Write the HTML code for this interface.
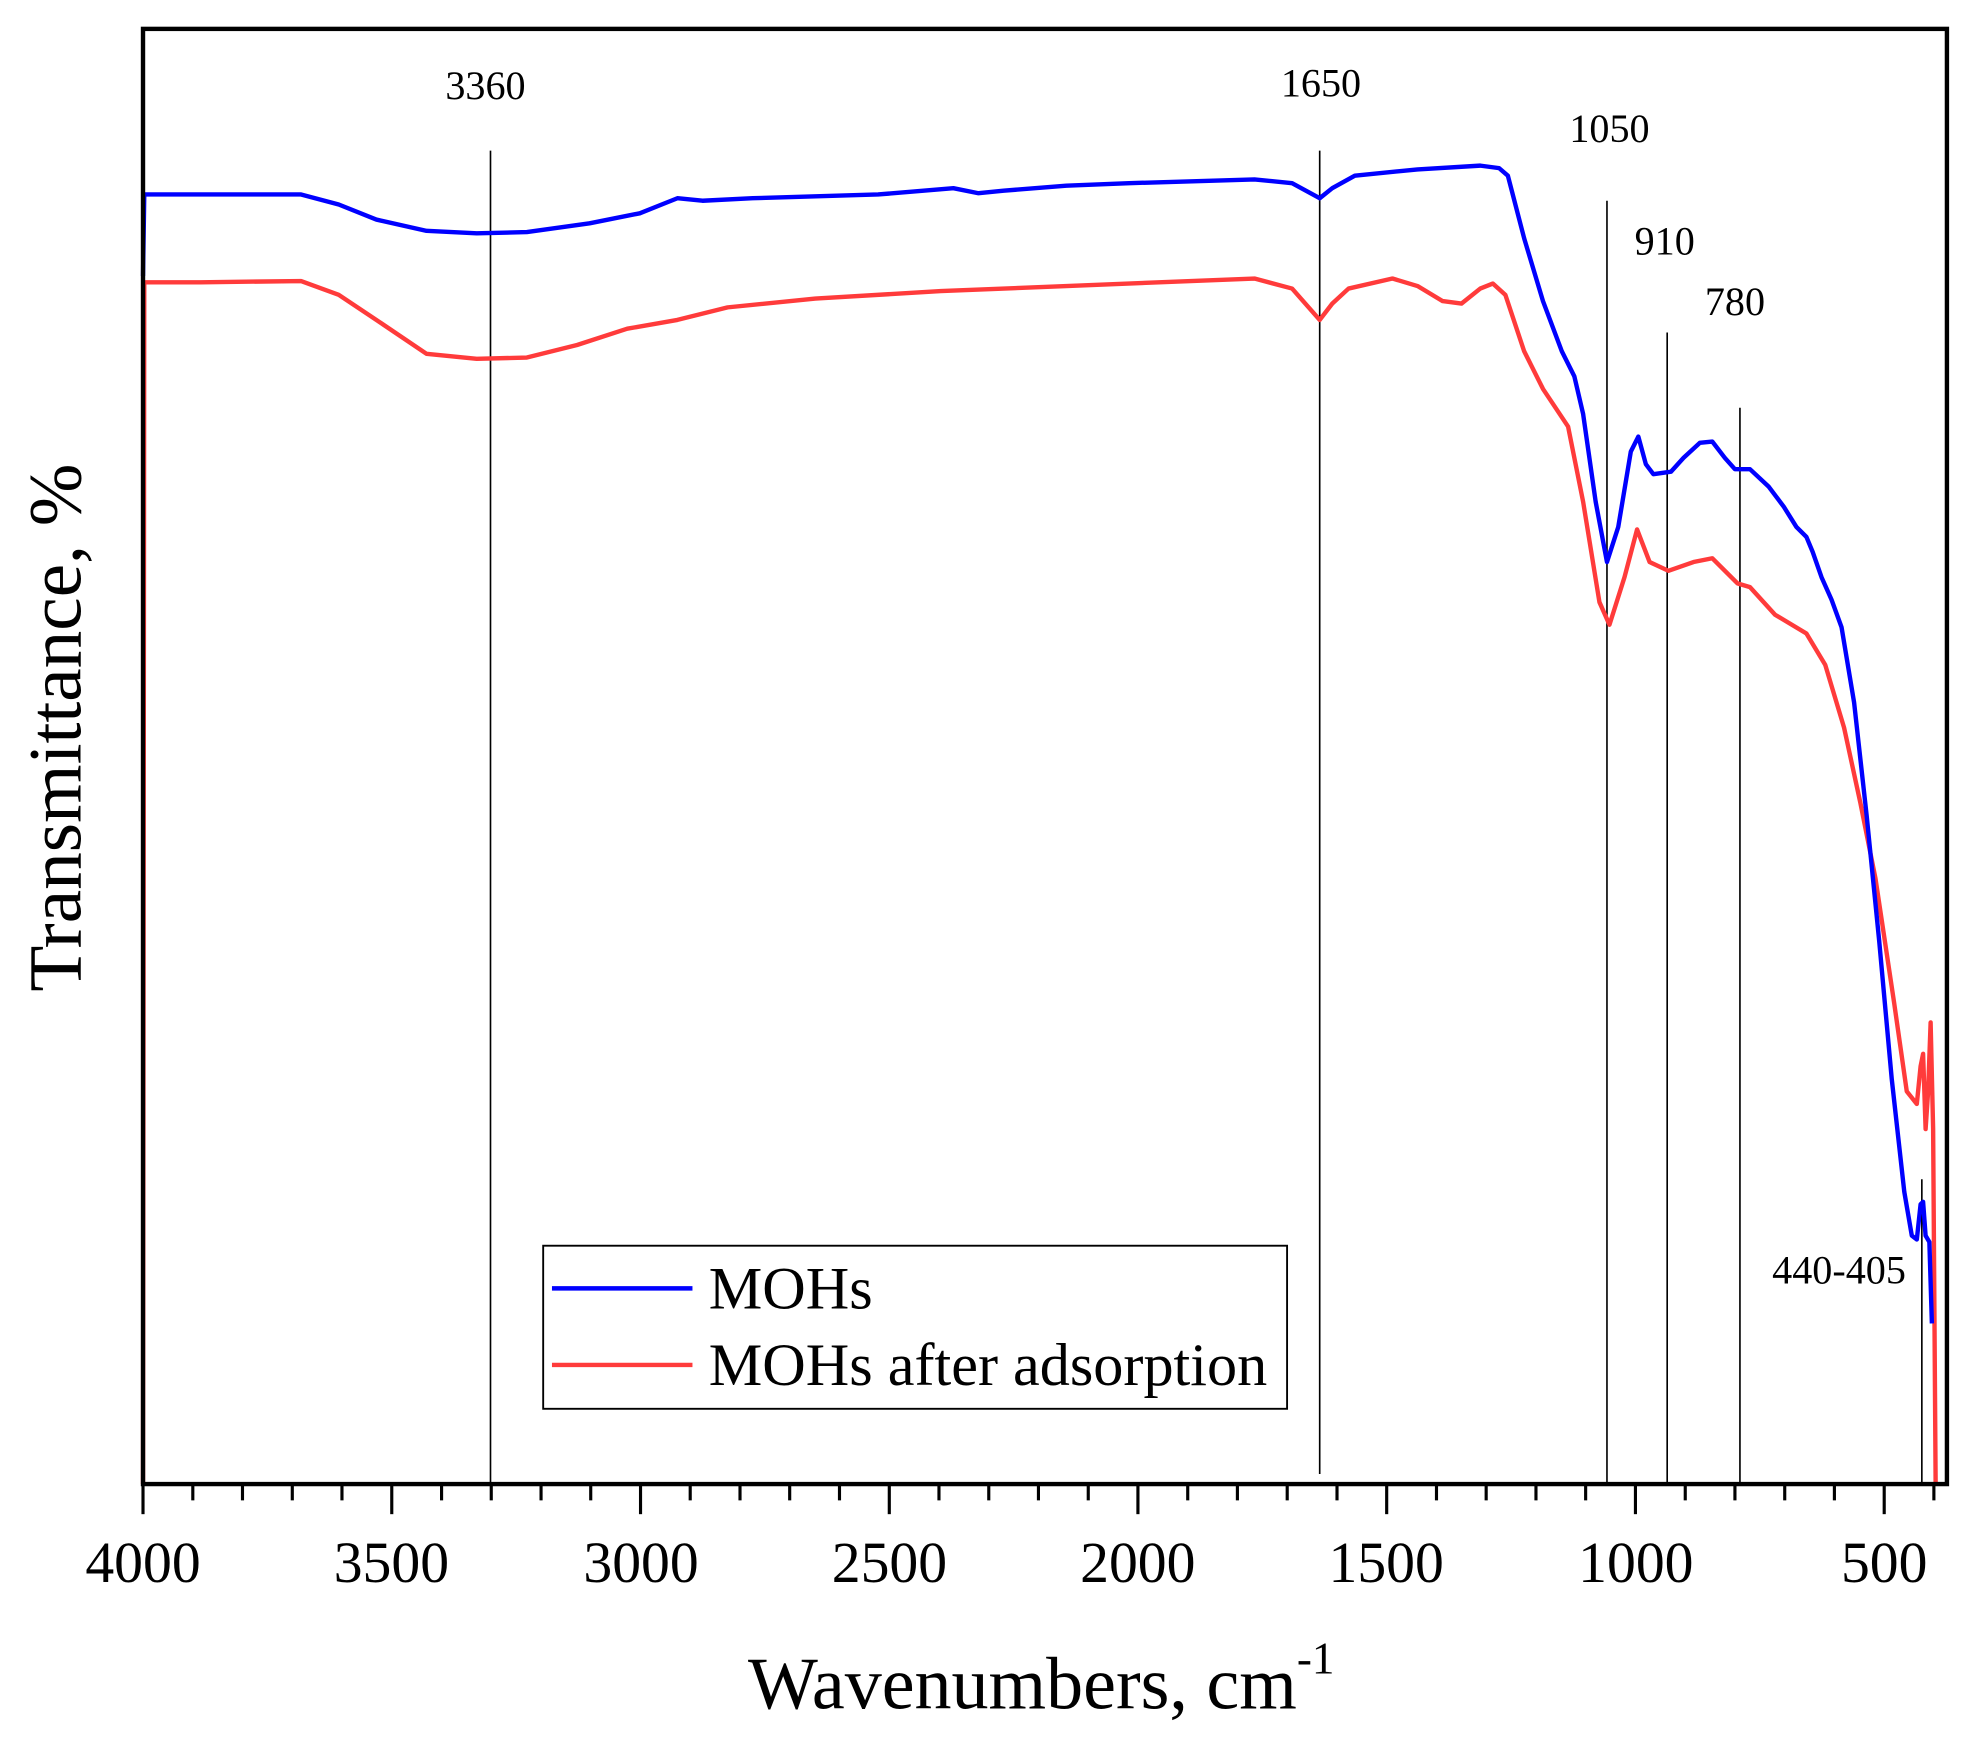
<!DOCTYPE html>
<html><head><meta charset="utf-8"><style>
html,body{margin:0;padding:0;background:#fff}
svg{display:block}
text{font-family:"Liberation Serif",serif;fill:#000}
</style></head><body>
<svg width="1967" height="1738" viewBox="0 0 1568 1385.4" xmlns="http://www.w3.org/2000/svg">
<rect x="0" y="0" width="1568" height="1386" fill="#fff"/>
<g stroke="#000" stroke-width="1.3" fill="none">
<line x1="391" y1="120" x2="391" y2="1183"/>
<line x1="1052" y1="120" x2="1052" y2="1175"/>
<line x1="1281" y1="160" x2="1281" y2="1183"/>
<line x1="1329" y1="265" x2="1329" y2="1183"/>
<line x1="1387" y1="325" x2="1387" y2="1183"/>
<line x1="1532" y1="940" x2="1532" y2="1183"/>
</g>
<polyline fill="none" stroke="#ff3b3b" stroke-width="3.5" stroke-linejoin="round" points="114,1183 115,225 160,225 240,224 270,235 300,255 340,282 380,286 420,285 460,275 500,262 540,255 580,245 650,238 750,232 850,228 1000,222 1030,230 1052,255 1062,242 1075,230 1110,222 1130,228 1150,240 1165,242 1180,230 1190,226 1200,235 1215,280 1230,310 1250,340 1262,400 1275,480 1283,498 1295,460 1305,422 1315,448 1330,455 1350,448 1365,445 1385,465 1395,468 1415,490 1440,505 1455,530 1470,580 1483,640 1495,700 1510,800 1520,870 1528,880 1531,850 1533,840 1535,900 1537,870 1539,815 1541,900 1543,1183"/>
<polyline fill="none" stroke="#0000ff" stroke-width="3.5" stroke-linejoin="round" points="114,220 115,155 160,155 240,155 270,163 300,175 340,184 380,186 420,185 470,178 510,170 530,162 540,158 560,160 600,158 700,155 760,150 780,154 800,152 850,148 900,146 1000,143 1030,146 1052,158 1062,150 1080,140 1130,135 1180,132 1195,134 1202,140 1215,190 1230,240 1245,280 1255,300 1262,330 1272,400 1281,448 1290,420 1300,360 1306,348 1312,370 1318,378 1332,376 1342,365 1355,353 1365,352 1375,365 1383,374 1395,374 1410,388 1422,404 1432,420 1440,428 1445,440 1452,460 1460,478 1468,500 1478,560 1488,650 1498,750 1508,860 1518,950 1524,985 1528,988 1531,960 1533,958 1535,985 1538,990 1540,1055"/>
<rect x="114" y="23" width="1438" height="1160" fill="none" stroke="#000" stroke-width="3.5"/>
<g stroke="#000" stroke-width="2.5">
<line x1="114" y1="1183" x2="114" y2="1207"/><line x1="153.7" y1="1183" x2="153.7" y2="1196"/><line x1="193.3" y1="1183" x2="193.3" y2="1196"/><line x1="233" y1="1183" x2="233" y2="1196"/><line x1="272.6" y1="1183" x2="272.6" y2="1196"/>
<line x1="312.3" y1="1183" x2="312.3" y2="1207"/><line x1="352" y1="1183" x2="352" y2="1196"/><line x1="391.6" y1="1183" x2="391.6" y2="1196"/><line x1="431.3" y1="1183" x2="431.3" y2="1196"/><line x1="470.9" y1="1183" x2="470.9" y2="1196"/>
<line x1="510.6" y1="1183" x2="510.6" y2="1207"/><line x1="550.2" y1="1183" x2="550.2" y2="1196"/><line x1="589.9" y1="1183" x2="589.9" y2="1196"/><line x1="629.5" y1="1183" x2="629.5" y2="1196"/><line x1="669.2" y1="1183" x2="669.2" y2="1196"/>
<line x1="708.9" y1="1183" x2="708.9" y2="1207"/><line x1="748.5" y1="1183" x2="748.5" y2="1196"/><line x1="788.2" y1="1183" x2="788.2" y2="1196"/><line x1="827.8" y1="1183" x2="827.8" y2="1196"/><line x1="867.5" y1="1183" x2="867.5" y2="1196"/>
<line x1="907.1" y1="1183" x2="907.1" y2="1207"/><line x1="946.8" y1="1183" x2="946.8" y2="1196"/><line x1="986.4" y1="1183" x2="986.4" y2="1196"/><line x1="1026.1" y1="1183" x2="1026.1" y2="1196"/><line x1="1065.8" y1="1183" x2="1065.8" y2="1196"/>
<line x1="1105.4" y1="1183" x2="1105.4" y2="1207"/><line x1="1145.1" y1="1183" x2="1145.1" y2="1196"/><line x1="1184.7" y1="1183" x2="1184.7" y2="1196"/><line x1="1224.4" y1="1183" x2="1224.4" y2="1196"/><line x1="1264" y1="1183" x2="1264" y2="1196"/>
<line x1="1303.7" y1="1183" x2="1303.7" y2="1207"/><line x1="1343.4" y1="1183" x2="1343.4" y2="1196"/><line x1="1383" y1="1183" x2="1383" y2="1196"/><line x1="1422.7" y1="1183" x2="1422.7" y2="1196"/><line x1="1462.3" y1="1183" x2="1462.3" y2="1196"/>
<line x1="1502" y1="1183" x2="1502" y2="1207"/><line x1="1541.6" y1="1183" x2="1541.6" y2="1196"/>
</g>
<g font-size="46" text-anchor="middle">
<text x="114" y="1261">4000</text><text x="312" y="1261">3500</text><text x="511" y="1261">3000</text><text x="709" y="1261">2500</text><text x="907" y="1261">2000</text><text x="1105" y="1261">1500</text><text x="1304" y="1261">1000</text><text x="1502" y="1261">500</text>
</g>
<text x="830" y="1362" font-size="59" text-anchor="middle">Wavenumbers, cm<tspan font-size="36" dy="-28">-1</tspan></text>
<text transform="translate(64,580) rotate(-90)" font-size="60" text-anchor="middle">Transmittance, %</text>
<g font-size="32" text-anchor="middle">
<text x="387" y="79">3360</text><text x="1053" y="77">1650</text><text x="1283" y="113">1050</text><text x="1327" y="203">910</text><text x="1383" y="251">780</text><text x="1466" y="1023">440-405</text>
</g>
<rect x="433" y="993" width="593" height="130" fill="#fff" stroke="#000" stroke-width="1.5"/>
<line x1="440" y1="1027" x2="552" y2="1027" stroke="#0000ff" stroke-width="3.5"/>
<line x1="440" y1="1088" x2="552" y2="1088" stroke="#ff3b3b" stroke-width="3.5"/>
<text x="565" y="1043" font-size="48">MOHs</text>
<text x="565" y="1104" font-size="48">MOHs after adsorption</text>
</svg>
</body></html>
